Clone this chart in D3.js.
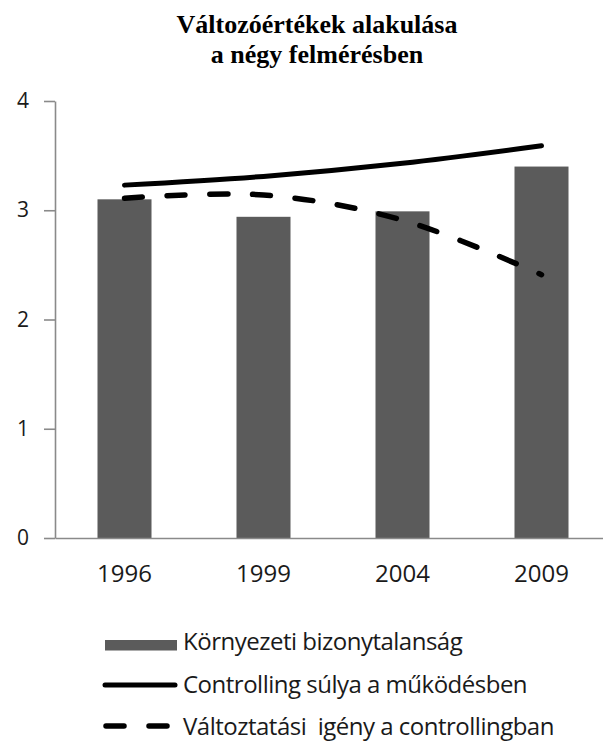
<!DOCTYPE html>
<html>
<head>
<meta charset="utf-8">
<script src="https://cdn.jsdelivr.net/npm/d3@7"></script>
<style>
  body { margin: 0; background: #fff; }
  svg { display: block; }
</style>
</head>
<body>
<div id="chart"></div>
<script>
// values
const years = ["1996", "1999", "2004", "2009"];
const bizonytalansag = [3.10, 2.94, 2.99, 3.40];
const controllingSuly = [3.23, 3.31, 3.43, 3.59];
const valtoztatasiIgeny = [3.11, 3.14, 2.91, 2.41];
const yTicks = [0, 1, 2, 3, 4];
const titleLines = ["Változóértékek alakulása", "a négy felmérésben"];
const seriesNames = ["Környezeti bizonytalanság", "Controlling súlya a működésben", "Változtatási\u00a0 igény a controllingban"];

const w = 603, h = 742;
const svg = d3.select("#chart").append("svg")
  .attr("width", w)
  .attr("height", h);

const x = d3.scaleBand().domain(years).range([55, 611]).padding(0),
      y = d3.scaleLinear().domain([0, 4]).range([538, 101]);
const barW = 54;
const cx = d => x(d) + x.bandwidth() / 2;

// title
svg.append("text")
  .attr("x", 317).attr("y", 33)
  .attr("text-anchor", "middle")
  .style("font-family", "'Liberation Serif', serif")
  .style("font-weight", "bold")
  .style("font-size", "26px")
  .selectAll("tspan")
  .data(titleLines)
  .enter().append("tspan")
  .attr("x", 317)
  .attr("dy", (d, i) => i === 0 ? 0 : 30)
  .text(d => d);

// bars
svg.selectAll(".bar")
  .data(years)
  .enter().append("rect")
  .attr("class", "bar")
  .attr("x", d => cx(d) - barW / 2)
  .attr("y", (d, i) => y(bizonytalansag[i]))
  .attr("width", barW)
  .attr("height", (d, i) => y(0) - y(bizonytalansag[i]))
  .attr("fill", "#5b5b5b");

// axes
const yAxis = svg.append("g").attr("transform", "translate(55,0)")
  .call(d3.axisLeft(y).tickValues(yTicks).tickFormat(d3.format("d")).tickSize(11).tickSizeOuter(0).tickPadding(15));
const xAxis = svg.append("g").attr("transform", "translate(0,538)")
  .call(d3.axisBottom(x).tickSize(0).tickSizeOuter(0).tickPadding(27));

[yAxis, xAxis].forEach(g => {
  g.selectAll("path, line").attr("stroke", "#8a8a8a").attr("stroke-width", 1.6);
  g.selectAll("text").attr("fill", "#1a1a1a").style("font-family", "'Open Sans', sans-serif");
});
yAxis.selectAll("text").style("font-size", "21px");
xAxis.selectAll("text").style("font-size", "24px");

// lines
const line = d3.line()
  .x(d => cx(d.year))
  .y(d => y(d.v))
  .curve(d3.curveCatmullRom.alpha(0.5));

svg.append("path")
  .datum(years.map((yr, i) => ({ year: yr, v: controllingSuly[i] })))
  .attr("fill", "none")
  .attr("stroke", "#000")
  .attr("stroke-width", 5)
  .attr("stroke-linecap", "round")
  .attr("d", line);

svg.append("path")
  .datum(years.map((yr, i) => ({ year: yr, v: valtoztatasiIgeny[i] })))
  .attr("fill", "none")
  .attr("stroke", "#000")
  .attr("stroke-width", 5.5)
  .attr("stroke-linecap", "round")
  .attr("stroke-dasharray", "18,24.7")
  .attr("d", line);

// legend
const legend = svg.append("g");
const rowY = [650, 693, 735];

legend.append("rect")
  .attr("x", 105).attr("y", 640)
  .attr("width", 72).attr("height", 10.5)
  .attr("fill", "#5b5b5b");
legend.append("line")
  .attr("x1", 105).attr("x2", 175)
  .attr("y1", 685).attr("y2", 685)
  .attr("stroke", "#000").attr("stroke-width", 5).attr("stroke-linecap", "round");
legend.append("line")
  .attr("x1", 106).attr("x2", 175)
  .attr("y1", 726).attr("y2", 726)
  .attr("stroke", "#000").attr("stroke-width", 5.5).attr("stroke-linecap", "round")
  .attr("stroke-dasharray", "18,25");

seriesNames.forEach((t, i) => {
  legend.append("text")
    .attr("x", 183).attr("y", rowY[i])
    .attr("fill", "#1a1a1a")
    .style("font-family", "'Open Sans', sans-serif")
    .style("font-size", "24px")
    .style("letter-spacing", "-0.5px")
    .text(t);
});
</script>
</body>
</html>
